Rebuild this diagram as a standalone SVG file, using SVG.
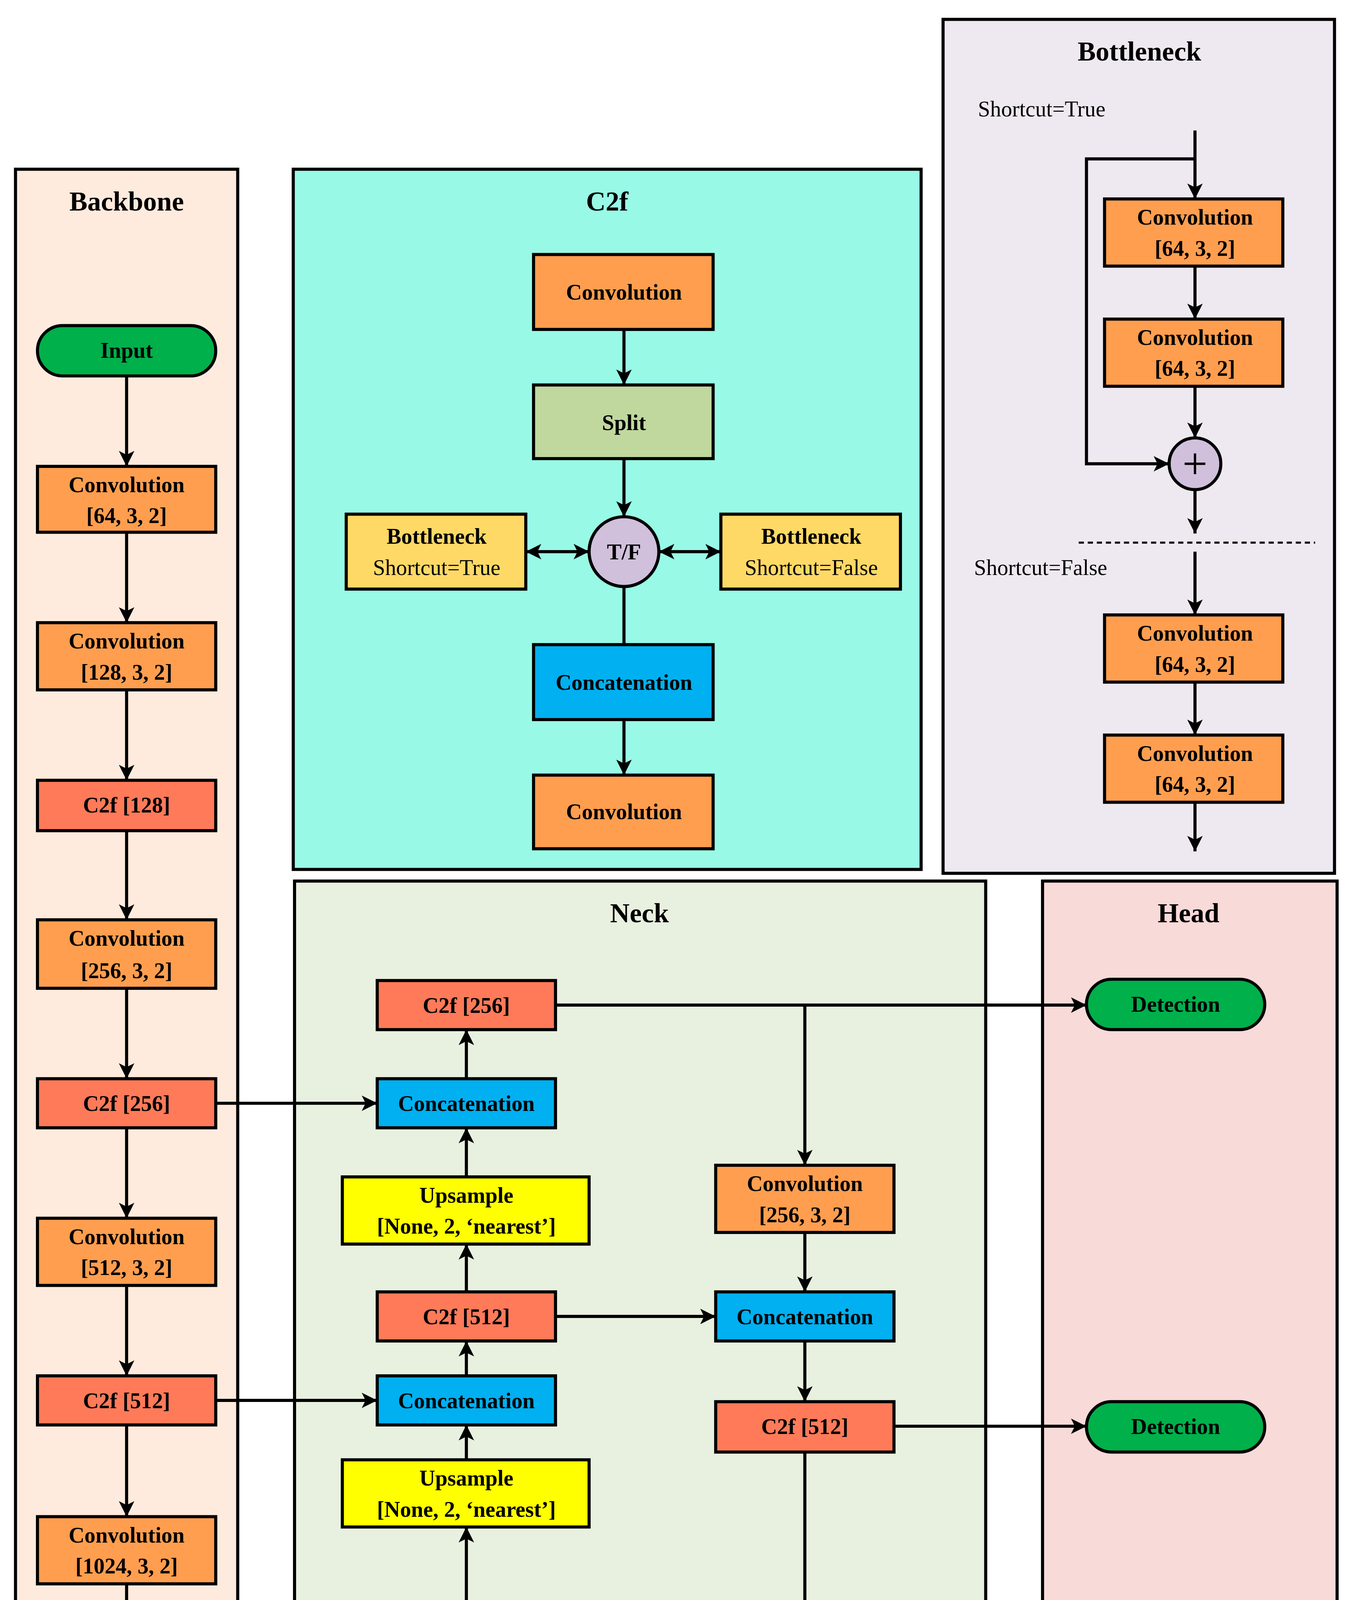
<svg xmlns="http://www.w3.org/2000/svg" width="3456" height="5167" viewBox="0 0 3456 5167">
<style>
text{font-family:"Liberation Serif","Times New Roman",serif;font-weight:bold;font-size:17px;text-anchor:middle;fill:#000}
.t{font-size:21px}
.n{font-weight:normal;text-anchor:start}
.p{stroke:#000;stroke-width:2.4}
.b{stroke:#000;stroke-width:2.4}
.c{fill:none;stroke:#000;stroke-width:2.4}
.or{fill:#FF9E4F}.red{fill:#FF7A59}.grn{fill:#00B04B}.blu{fill:#00B0F0}.yel{fill:#FFFF00}
</style>
<defs>
<marker id="a" markerUnits="userSpaceOnUse" markerWidth="14" markerHeight="12" refX="12" refY="6" orient="auto-start-reverse"><path d="M0,0 L12,6 L0,12 L3,6 z" fill="#000"/></marker>
</defs>
<rect width="3456" height="5167" fill="#fff"/>
<g transform="scale(3.3072)">
<g id="panels">
<rect x="12" y="131" width="172" height="1422" fill="#FEEBDD" class="p"/>
<text class="t" x="98" y="163">Backbone</text>
<rect x="227" y="131" width="486" height="542" fill="#98FAE6" class="p"/>
<text class="t" x="470" y="163">C2f</text>
<rect x="730" y="15" width="303" height="661" fill="#EEE9F1" class="p"/>
<text class="t" x="882" y="47">Bottleneck</text>
<rect x="228" y="682" width="535" height="873" fill="#E8F0DF" class="p"/>
<text class="t" x="495" y="714">Neck</text>
<rect x="807" y="682" width="228" height="873" fill="#F8DAD8" class="p"/>
<text class="t" x="920" y="714">Head</text>
<text class="n" x="757" y="90">Shortcut=True</text>
<text class="n" x="754" y="445">Shortcut=False</text>
</g>
<g id="connectors">
<path class="c" marker-end="url(#a)" d="M98,291V361"/>
<path class="c" marker-end="url(#a)" d="M98,412V482"/>
<path class="c" marker-end="url(#a)" d="M98,534V604"/>
<path class="c" marker-end="url(#a)" d="M98,643V712"/>
<path class="c" marker-end="url(#a)" d="M98,765V835"/>
<path class="c" marker-end="url(#a)" d="M98,873V943"/>
<path class="c" marker-end="url(#a)" d="M98,995V1065"/>
<path class="c" marker-end="url(#a)" d="M98,1103V1174"/>
<path class="c" marker-end="url(#a)" d="M98,1226V1295"/>
<path class="c" marker-end="url(#a)" d="M98,1334V1404"/>
<path class="c" marker-end="url(#a)" d="M483,255V298"/>
<path class="c" marker-end="url(#a)" d="M483,355V400"/>
<path class="c" marker-start="url(#a)" marker-end="url(#a)" d="M407,427H456"/>
<path class="c" marker-start="url(#a)" marker-end="url(#a)" d="M510,427H558"/>
<path class="c" d="M483,454V499"/>
<path class="c" marker-end="url(#a)" d="M483,557V600"/>
<path class="c" marker-end="url(#a)" d="M925,101V154"/>
<path class="c" marker-end="url(#a)" d="M925,123H841V359H905"/>
<path class="c" marker-end="url(#a)" d="M925,206V247"/>
<path class="c" marker-end="url(#a)" d="M925,299V339"/>
<path class="c" marker-end="url(#a)" d="M925,379V413"/>
<path d="M835,420H1018" stroke="#000" stroke-width="1.6" stroke-dasharray="4,3" fill="none"/>
<path class="c" marker-end="url(#a)" d="M925,427V476"/>
<path class="c" marker-end="url(#a)" d="M925,528V569"/>
<path class="c" marker-end="url(#a)" d="M925,621V659"/>
<path class="c" marker-end="url(#a)" d="M167,854H292"/>
<path class="c" marker-end="url(#a)" d="M167,1084H292"/>
<path class="c" marker-end="url(#a)" d="M167,1430H554"/>
<path class="c" marker-end="url(#a)" d="M361,1430V1182"/>
<path class="c" marker-end="url(#a)" d="M361,1130V1103"/>
<path class="c" marker-end="url(#a)" d="M361,1065V1038"/>
<path class="c" marker-end="url(#a)" d="M361,1000V963"/>
<path class="c" marker-end="url(#a)" d="M361,911V873"/>
<path class="c" marker-end="url(#a)" d="M361,835V797"/>
<path class="c" marker-end="url(#a)" d="M430,778H841"/>
<path class="c" marker-end="url(#a)" d="M623,778V902"/>
<path class="c" marker-end="url(#a)" d="M623,954V1000"/>
<path class="c" marker-end="url(#a)" d="M430,1019H554"/>
<path class="c" marker-end="url(#a)" d="M623,1038V1085"/>
<path class="c" marker-end="url(#a)" d="M692,1104H841"/>
<path class="c" marker-end="url(#a)" d="M623,1124V1318"/>
<path class="c" marker-end="url(#a)" d="M623,1370V1410"/>
<path class="c" marker-end="url(#a)" d="M623,1449V1490"/>
<path class="c" marker-end="url(#a)" d="M692,1510H841"/>
</g>
<g id="bb-input"><rect x="29" y="252" width="138" height="39" rx="19.5" class="b grn"/><text x="98" y="277">Input</text></g>
<g id="bb-conv1"><rect x="29" y="361" width="138" height="51" class="b or"/><text x="98" y="381">Convolution</text><text x="98" y="405">[64, 3, 2]</text></g>
<g id="bb-conv2"><rect x="29" y="482" width="138" height="52" class="b or"/><text x="98" y="502">Convolution</text><text x="98" y="526">[128, 3, 2]</text></g>
<g id="bb-c2f128"><rect x="29" y="604" width="138" height="39" class="b red"/><text x="98" y="629">C2f [128]</text></g>
<g id="bb-conv3"><rect x="29" y="712" width="138" height="53" class="b or"/><text x="98" y="732">Convolution</text><text x="98" y="757">[256, 3, 2]</text></g>
<g id="bb-c2f256"><rect x="29" y="835" width="138" height="38" class="b red"/><text x="98" y="860">C2f [256]</text></g>
<g id="bb-conv4"><rect x="29" y="943" width="138" height="52" class="b or"/><text x="98" y="963">Convolution</text><text x="98" y="987">[512, 3, 2]</text></g>
<g id="bb-c2f512"><rect x="29" y="1065" width="138" height="38" class="b red"/><text x="98" y="1090">C2f [512]</text></g>
<g id="bb-conv5"><rect x="29" y="1174" width="138" height="52" class="b or"/><text x="98" y="1194">Convolution</text><text x="98" y="1218">[1024, 3, 2]</text></g>
<g id="bb-c2f1024"><rect x="29" y="1295" width="138" height="39" class="b red"/><text x="98" y="1320">C2f [1024]</text></g>
<g id="bb-sppf"><rect x="29" y="1404" width="138" height="51" fill="#ADDDE8" class="b"/><text x="98" y="1436">SPPF [1024, 5]</text></g>
<g id="c2f-conv1"><rect x="413" y="197" width="139" height="58" class="b or"/><text x="483" y="232">Convolution</text></g>
<g id="c2f-split"><rect x="413" y="298" width="139" height="57" fill="#C0D89E" class="b"/><text x="483" y="333">Split</text></g>
<g id="c2f-tf"><circle cx="483" cy="427" r="27" fill="#D0C0DC" class="b"/><text x="483" y="433">T/F</text></g>
<g id="c2f-bt"><rect x="268" y="398" width="139" height="58" fill="#FFD966" class="b"/><text x="338" y="421">Bottleneck</text><text x="338" y="445" style="font-weight:normal">Shortcut=True</text></g>
<g id="c2f-bf"><rect x="558" y="398" width="139" height="58" fill="#FFD966" class="b"/><text x="628" y="421">Bottleneck</text><text x="628" y="445" style="font-weight:normal">Shortcut=False</text></g>
<g id="c2f-concat"><rect x="413" y="499" width="139" height="58" class="b blu"/><text x="483" y="534">Concatenation</text></g>
<g id="c2f-conv2"><rect x="413" y="600" width="139" height="57" class="b or"/><text x="483" y="634">Convolution</text></g>
<g id="bn-conv1"><rect x="855" y="154" width="138" height="52" class="b or"/><text x="925" y="174">Convolution</text><text x="925" y="198">[64, 3, 2]</text></g>
<g id="bn-conv2"><rect x="855" y="247" width="138" height="52" class="b or"/><text x="925" y="267">Convolution</text><text x="925" y="291">[64, 3, 2]</text></g>
<g id="bn-add"><circle cx="925" cy="359" r="20" fill="#D0C0DC" class="b"/><path d="M917,359H933M925,351V367" stroke="#000" stroke-width="1.8"/></g>
<g id="bn-conv3"><rect x="855" y="476" width="138" height="52" class="b or"/><text x="925" y="496">Convolution</text><text x="925" y="520">[64, 3, 2]</text></g>
<g id="bn-conv4"><rect x="855" y="569" width="138" height="52" class="b or"/><text x="925" y="589">Convolution</text><text x="925" y="613">[64, 3, 2]</text></g>
<g id="nk-c2f256"><rect x="292" y="759" width="138" height="38" class="b red"/><text x="361" y="784">C2f [256]</text></g>
<g id="nk-cat1"><rect x="292" y="835" width="138" height="38" class="b blu"/><text x="361" y="860">Concatenation</text></g>
<g id="nk-up1"><rect x="265" y="911" width="191" height="52" class="b yel"/><text x="361" y="931">Upsample</text><text x="361" y="955">[None, 2, ‘nearest’]</text></g>
<g id="nk-c2f512a"><rect x="292" y="1000" width="138" height="38" class="b red"/><text x="361" y="1025">C2f [512]</text></g>
<g id="nk-cat2"><rect x="292" y="1065" width="138" height="38" class="b blu"/><text x="361" y="1090">Concatenation</text></g>
<g id="nk-up2"><rect x="265" y="1130" width="191" height="52" class="b yel"/><text x="361" y="1150">Upsample</text><text x="361" y="1174">[None, 2, ‘nearest’]</text></g>
<g id="nk-conv1"><rect x="554" y="902" width="138" height="52" class="b or"/><text x="623" y="922">Convolution</text><text x="623" y="946">[256, 3, 2]</text></g>
<g id="nk-cat3"><rect x="554" y="1000" width="138" height="38" class="b blu"/><text x="623" y="1025">Concatenation</text></g>
<g id="nk-c2f512b"><rect x="554" y="1085" width="138" height="39" class="b red"/><text x="623" y="1110">C2f [512]</text></g>
<g id="nk-conv2"><rect x="554" y="1318" width="138" height="52" class="b or"/><text x="623" y="1338">Convolution</text><text x="623" y="1362">[512, 3, 2]</text></g>
<g id="nk-cat4"><rect x="554" y="1410" width="138" height="39" class="b blu"/><text x="623" y="1436">Concatenation</text></g>
<g id="nk-c2f1024"><rect x="554" y="1490" width="138" height="39" class="b red"/><text x="623" y="1516">C2f [1024]</text></g>
<g id="hd-det1"><rect x="841" y="758" width="138" height="39" rx="19.5" class="b grn"/><text x="910" y="783">Detection</text></g>
<g id="hd-det2"><rect x="841" y="1085" width="138" height="39" rx="19.5" class="b grn"/><text x="910" y="1110">Detection</text></g>
<g id="hd-det3"><rect x="841" y="1490" width="138" height="39" rx="19.5" class="b grn"/><text x="910" y="1515">Detection</text></g>
</g>
</svg>
